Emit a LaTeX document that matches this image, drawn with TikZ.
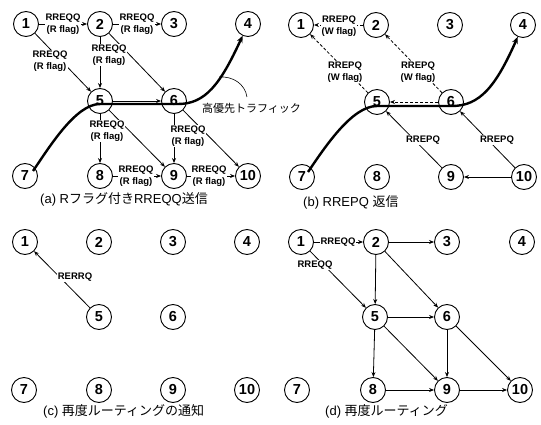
\documentclass[tikz,border=0pt]{standalone}
\usepackage{fontspec}
\setmainfont{Liberation Sans}
\newfontfamily\jp{Noto Sans CJK JP}
\usetikzlibrary{arrows.meta}
\begin{document}
\begin{tikzpicture}[x=1pt,y=-1pt,
  nd/.style={circle,draw,line width=0.9pt,minimum size=25pt,inner sep=0pt,fill=white,font=\fontsize{14.5}{14.5}\selectfont\bfseries},
  ar/.style={line width=0.8pt,-{Stealth[length=5pt,width=4pt]}},
  dar/.style={ar,dash pattern=on 3pt off 2pt},
  lb/.style={fill=white,inner sep=0.6pt,align=center,font=\fontsize{9.5}{12}\selectfont\bfseries},
  hpline/.style={line width=2.4pt,-{Stealth[length=7pt,width=6pt]}},
  captxt/.style={anchor=west,inner sep=0pt,font=\fontsize{13}{13}\selectfont}]
\useasboundingbox[fill=white] (0,0) rectangle (541,425);
% ---------- panel (a)
\node[nd] (a1) at (26,24) {1};
\node[nd] (a2) at (100,24) {2};
\node[nd] (a3) at (174,24) {3};
\node[nd] (a4) at (248,24) {4};
\node[nd] (a5) at (100,101) {5};
\node[nd] (a6) at (174,101) {6};
\node[nd] (a7) at (25,176) {7};
\node[nd] (a8) at (100,176) {8};
\node[nd] (a9) at (174,176) {9};
\node[nd] (a10) at (248,176) {10};
\foreach \s/\t in {a1/a2,a2/a3,a1/a5,a2/a5,a2/a6,a5/a6,a5/a8,a5/a9,a6/a9,a6/a10,a8/a9,a9/a10}
  \draw[ar] (\s) -- (\t);
\node[lb] at (63,24.5) {RREQQ\\(R flag)};
\node[lb] at (137,24.5) {RREQQ\\(R flag)};
\node[lb] at (50,61) {RREQQ\\(R flag)};
\node[lb] at (109,55) {RREQQ\\(R flag)};
\node[lb] at (107,131) {RREQQ\\(R flag)};
\node[lb] at (188,136) {RREQQ\\(R flag)};
\node[lb] at (136,176) {RREQQ\\(R flag)};
\node[lb] at (209,176) {RREQQ\\(R flag)};
\coordinate (as) at (33,171);
\draw[hpline] (as) .. controls (50,146) and (76,104) .. (100,104) -- (178,104) .. controls (205,104) and (220,85) .. (a4);
\node[anchor=west,inner sep=0pt,font=\jp\fontsize{11}{11}\selectfont] (hp) at (202,108) {高優先トラフィック};
\coordinate (lt) at (247,97);
\coordinate (le) at (219,77);
\draw[line width=0.6pt] (lt) .. controls (245,84) and (233,76) .. (le);
\node[captxt] (capa) at (40,199) {(a) R{\jp フラグ付き}RREQQ{\jp 送信}};
% ---------- panel (b)
\node[nd] (b1) at (301,25) {1};
\node[nd] (b2) at (376,25) {2};
\node[nd] (b3) at (450,25) {3};
\node[nd] (b4) at (523,25) {4};
\node[nd] (b5) at (377,102) {5};
\node[nd] (b6) at (451,102) {6};
\node[nd] (b7) at (302,177) {7};
\node[nd] (b8) at (377,177) {8};
\node[nd] (b9) at (451,177) {9};
\node[nd] (b10) at (524,177) {10};
\foreach \s/\t in {b2/b1,b5/b1,b6/b2,b6/b5}
  \draw[dar] (\s) -- (\t);
\foreach \s/\t in {b9/b5,b10/b6,b10/b9}
  \draw[ar] (\s) -- (\t);
\node[lb] at (339,26.5) {RREPQ\\(W flag)};
\node[lb] at (345,72) {RREPQ\\(W flag)};
\node[lb] at (418,72) {RREPQ\\(W flag)};
\node[lb] at (423,140) {RREPQ};
\node[lb] at (497,140) {RREPQ};
\coordinate (bs) at (308,172);
\draw[hpline] (bs) .. controls (325,147) and (352,106) .. (377,106) -- (452,106) .. controls (480,106) and (496,86) .. (b4);
\node[captxt] (capb) at (303,202) {(b) RREPQ {\jp 返信}};
% ---------- panel (c)
\node[nd] (c1) at (25,242) {1};
\node[nd] (c2) at (99,242) {2};
\node[nd] (c3) at (173,242) {3};
\node[nd] (c4) at (247,242) {4};
\node[nd] (c5) at (99,317) {5};
\node[nd] (c6) at (173,317) {6};
\node[nd] (c7) at (24,390) {7};
\node[nd] (c8) at (99,390) {8};
\node[nd] (c9) at (173,390) {9};
\node[nd] (c10) at (247,390) {10};
\draw[ar] (c5) -- (c1);
\node[lb] at (75,277) {RERRQ};
\node[captxt] (capc) at (43,411) {(c) {\jp 再度ルーティングの通知}};
% ---------- panel (d)
\node[nd] (d1) at (301,242) {1};
\node[nd] (d2) at (376,242) {2};
\node[nd] (d3) at (447,242) {3};
\node[nd] (d4) at (522,242) {4};
\node[nd] (d5) at (375,317) {5};
\node[nd] (d6) at (447,317) {6};
\node[nd] (d7) at (297,390) {7};
\node[nd] (d8) at (373,390) {8};
\node[nd] (d9) at (447,390) {9};
\node[nd] (d10) at (520,390) {10};
\foreach \s/\t in {d1/d2,d1/d5,d2/d3,d2/d5,d2/d6,d5/d6,d5/d8,d5/d9,d6/d9,d6/d10,d8/d9,d9/d10}
  \draw[ar] (\s) -- (\t);
\node[lb] at (338,242) {RREQQ};
\node[lb] at (315,265) {RREQQ};
\node[captxt] (capd) at (325,411) {(d) {\jp 再度ルーティング}};
\end{tikzpicture}
\end{document}
